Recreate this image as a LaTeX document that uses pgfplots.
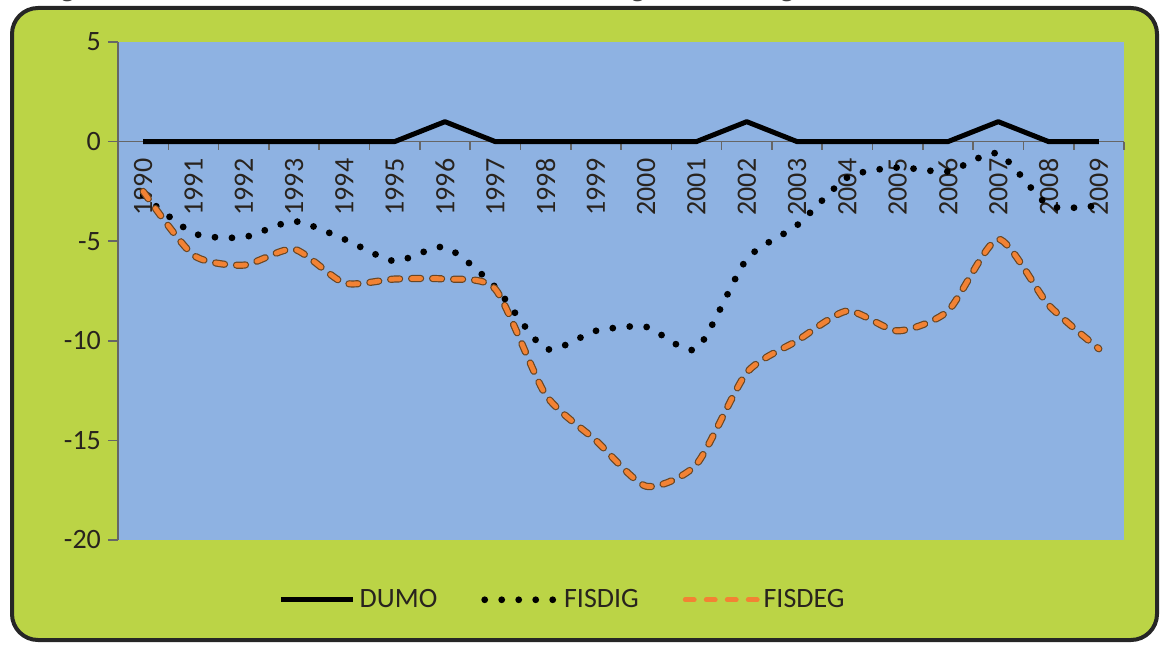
\documentclass[border=0pt]{standalone}
\usepackage{pgfplots}
\pgfplotsset{compat=1.18}
\usepackage{fontspec}
\setmainfont{Carlito}
\newfontfamily\titlefont{Liberation Serif}
\definecolor{bggreen}{RGB}{187,212,70}
\definecolor{plotblue}{RGB}{142,178,226}
\definecolor{deforange}{RGB}{242,130,52}
\definecolor{txt}{RGB}{40,35,30}
\begin{document}
\begin{tikzpicture}
\useasboundingbox (0,0) rectangle (580.5pt,322pt);
\node[anchor=base west, font=\titlefont\bfseries\fontsize{12}{14}\selectfont, inner sep=0pt, text=black!75] at (20pt,323.5pt) {Figure 4.1: Trends in DUMO and Fiscal Deficit: Excluding and Including Grants};
\draw[line width=2pt, draw=black!85, fill=bggreen, rounded corners=13pt] (6pt,2pt) rectangle (578.5pt,318pt);
\begin{axis}[
  at={(59pt,52pt)}, anchor=south west,
  scale only axis, width=503pt, height=249pt,
  xmin=-0.5, xmax=19.5, ymin=-20, ymax=5,
  axis x line=middle, axis y line=left,
  axis line style={-, line width=0.8pt, draw=black!60},
  axis background/.style={fill=plotblue},
  xtick={0,...,19},
  xticklabels={1990,1991,1992,1993,1994,1995,1996,1997,1998,1999,2000,2001,2002,2003,2004,2005,2006,2007,2008,2009},
  minor xtick={-0.5,0.5,...,19.5},
  major x tick style={draw=none},
  minor x tick style={draw=black!60, line width=0.8pt},
  minor tick length=4pt,
  ytick={-20,-15,-10,-5,0,5},
  yticklabels={-20,-15,-10,-5,0,5},
  major y tick style={draw=black!60, line width=0.8pt},
  major tick length=5pt,
  tick align=outside,
  xticklabel style={rotate=90, anchor=east, font=\fontsize{14}{14}\selectfont, text=txt},
  yticklabel style={font=\fontsize{14}{14}\selectfont, text=txt},
  legend columns=3,
  legend image code/.code={\draw[#1] (0pt,0pt) -- (36pt,0pt);},
  legend style={draw=none, fill=none, at={(axis description cs:0.443,-0.12)}, anchor=center,
    font=\fontsize{14}{16}\selectfont, text=txt,
    /tikz/every even column/.append style={column sep=20pt}},
  clip=false,
]
\addplot[black, line width=2.5pt, line join=round] coordinates {
(0,0) (1,0) (2,0) (3,0) (4,0) (5,0) (6,1) (7,0) (8,0) (9,0)
(10,0) (11,0) (12,1) (13,0) (14,0) (15,0) (16,0) (17,1) (18,0) (19,0)};
\addlegendentry{DUMO}
\addplot[black, line width=3.4pt, line cap=round, dash pattern=on 0pt off 8.5pt, smooth, tension=0.4] coordinates {
(0,-2.7) (1,-4.6) (2,-4.8) (3,-4.0) (4,-4.9) (5,-6.0) (6,-5.3) (7,-7.3) (8,-10.4) (9,-9.5)
(10,-9.3) (11,-10.4) (12,-5.9) (13,-4.2) (14,-1.8) (15,-1.3) (16,-1.5) (17,-0.6) (18,-3.2) (19,-3.2)};
\addlegendentry{FISDIG}
\addplot[forget plot, draw=black!45!brown, line width=3.6pt, line cap=round, dash pattern=on 4.5pt off 6pt, smooth, tension=0.4] coordinates {
(0,-2.5) (1,-5.7) (2,-6.2) (3,-5.4) (4,-7.1) (5,-6.9) (6,-6.9) (7,-7.4) (8,-12.7) (9,-15.0)
(10,-17.3) (11,-16.2) (12,-11.6) (13,-10.0) (14,-8.5) (15,-9.5) (16,-8.5) (17,-4.9) (18,-8.2) (19,-10.4)};
\addplot[deforange, line width=2.4pt, line cap=round, dash pattern=on 4.5pt off 6pt, smooth, tension=0.4] coordinates {
(0,-2.5) (1,-5.7) (2,-6.2) (3,-5.4) (4,-7.1) (5,-6.9) (6,-6.9) (7,-7.4) (8,-12.7) (9,-15.0)
(10,-17.3) (11,-16.2) (12,-11.6) (13,-10.0) (14,-8.5) (15,-9.5) (16,-8.5) (17,-4.9) (18,-8.2) (19,-10.4)};
\addlegendentry{FISDEG}
\end{axis}
\end{tikzpicture}
\end{document}
